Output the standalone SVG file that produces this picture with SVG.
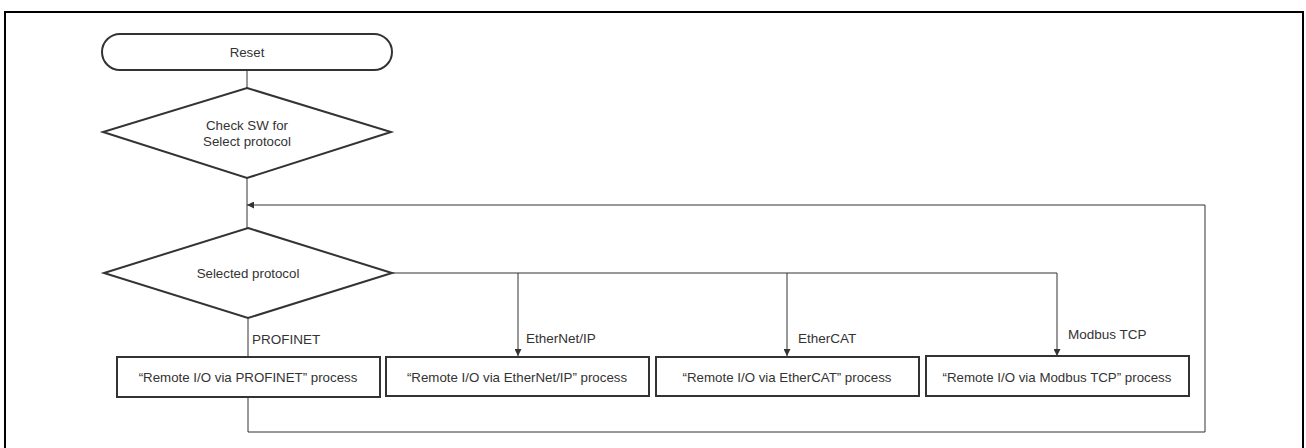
<svg xmlns="http://www.w3.org/2000/svg" width="1306" height="448" viewBox="0 0 1306 448">
<defs>
<marker id="arr" viewBox="0 0 10 10" refX="10" refY="5" markerWidth="7" markerHeight="7" orient="auto" markerUnits="userSpaceOnUse">
<path d="M0,0 L10,5 L0,10 z" fill="#333"/>
</marker>
</defs>
<style>
.node{fill:#fff;stroke:#333;stroke-width:2}
.t{font-family:"Liberation Sans",Arial,sans-serif;font-size:13.3px;fill:#333;text-anchor:middle}
.l{font-family:"Liberation Sans",Arial,sans-serif;font-size:13.5px;fill:#333}
.c{fill:none;stroke:#333;stroke-width:1}
</style>
<rect width="1306" height="448" fill="#fff"/>
<path d="M5,460 V12 H1303 V460" fill="none" stroke="#000" stroke-width="2"/>
<g id="connectors">
<line class="c" x1="247" y1="70" x2="247" y2="88"/>
<line class="c" x1="247" y1="178" x2="247" y2="228"/>
<polyline class="c" points="248,397 248,432 1205,432 1205,205 247,205" marker-end="url(#arr)"/>
<line class="c" x1="248" y1="318" x2="248" y2="357"/>
<polyline class="c" points="392,273 1057,273 1057,356" marker-end="url(#arr)"/>
<line class="c" x1="518" y1="273" x2="518" y2="356" marker-end="url(#arr)"/>
<line class="c" x1="787" y1="273" x2="787" y2="356" marker-end="url(#arr)"/>
<text class="l" x="252" y="344">PROFINET</text>
<text class="l" x="526" y="343">EtherNet/IP</text>
<text class="l" x="798" y="343">EtherCAT</text>
<text class="l" x="1068" y="339">Modbus TCP</text>
</g>
<g id="reset">
<rect class="node" x="102" y="34" width="290" height="36" rx="18" ry="18"/>
<text class="t" x="247" y="57">Reset</text>
</g>
<g id="check">
<polygon class="node" points="247,88 391,132 247,178 103,132"/>
<text class="t" x="247" y="130">Check SW for</text>
<text class="t" x="247" y="146">Select protocol</text>
</g>
<g id="selected">
<polygon class="node" points="248,228 392,273 248,318 104,273"/>
<text class="t" x="248" y="278">Selected protocol</text>
</g>
<g id="profinet">
<rect class="node" x="117" y="357" width="263" height="40"/>
<text class="t" x="248" y="382">“Remote I/O via PROFINET” process</text>
</g>
<g id="ethernetip">
<rect class="node" x="386" y="357" width="263" height="39"/>
<text class="t" x="517" y="382">“Remote I/O via EtherNet/IP” process</text>
</g>
<g id="ethercat">
<rect class="node" x="656" y="357" width="263" height="39"/>
<text class="t" x="787" y="382">“Remote I/O via EtherCAT” process</text>
</g>
<g id="modbus">
<rect class="node" x="926" y="356" width="263" height="40"/>
<text class="t" x="1057" y="382">“Remote I/O via Modbus TCP” process</text>
</g>
</svg>
